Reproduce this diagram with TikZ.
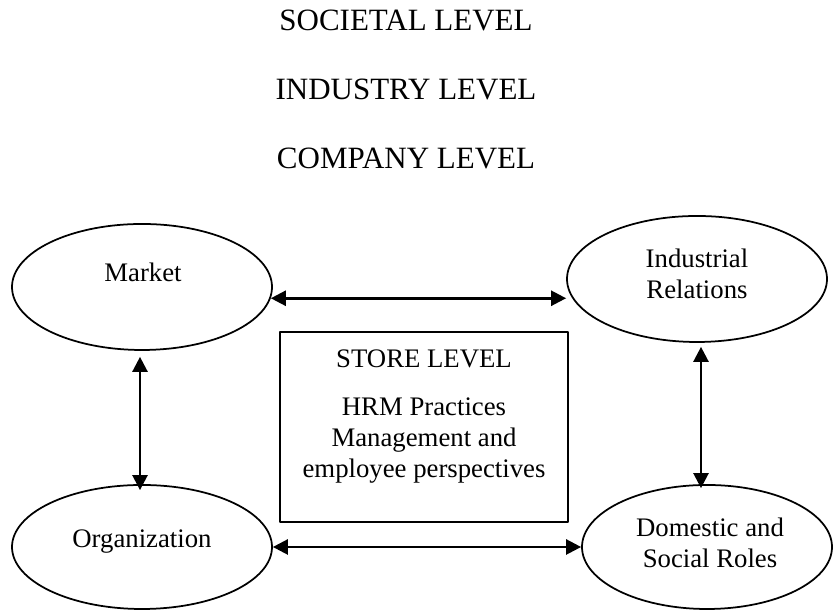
\documentclass[tikz,border=0pt]{standalone}
\usepackage{fontspec}
\setmainfont{Liberation Serif}
\usetikzlibrary{shapes.geometric,arrows.meta}
\begin{document}
\begin{tikzpicture}[x=.4pt,y=.4pt,font=\fontsize{10.7}{12.4}\selectfont, line join=round, line cap=round, >={Triangle[length=6pt,width=6pt]},
	elip/.style={draw,ellipse,line width=.7pt,inner sep=0pt,minimum width=104pt,minimum height=50.4pt},
	hop/.style={draw,rectangle,line width=.7pt,inner sep=0pt,minimum width=115.2pt,minimum height=76pt},
	tieude/.style={font=\fontsize{12.4}{14}\selectfont},
	mui/.style={<->,line width=1pt}]
	\useasboundingbox (0,0) rectangle (833,610);
	%% cac cap
	\node[tieude] (soc) at (406,590) {SOCIETAL LEVEL};
	\node[tieude] (ind) at (406,521) {INDUSTRY LEVEL};
	\node[tieude] (com) at (406,452) {COMPANY LEVEL};
	%% hinh elip va hop
	\node[elip] (market) at (142,323) {};
	\node[elip] (ir) at (697,331) {};
	\node[elip,minimum height=49.6pt] (org) at (142,63) {};
	\node[elip,minimum width=100pt,minimum height=49.6pt] (dom) at (707,63) {};
	\node[hop] (store) at (424,183) {};
	\node (marketlbl) at (143,338) {Market};
	\node[align=center] (irlbl) at (697,336) {Industrial\\Relations};
	\node (orglbl) at (142,68) {Organization};
	\node[align=center] (domlbl) at (710,67) {Domestic and\\Social Roles};
	\node[align=center,anchor=north,inner sep=0pt] (storelbl) at (424,261)
		{STORE LEVEL\\[7pt]HRM Practices\\Management and\\employee perspectives};
	%% mui ten
	\draw[mui] (market.-5) -- (market.-5 -| ir.west);
	\draw[mui] (org.east) -- (dom.west);
	\draw[mui] ([shift={(-2,-6)}]market.south) -- ([shift={(-2,-6)}]org.north);
	\draw[mui] ([shift={(4,-4)}]ir.south) -- ([shift={(4,-4)}]ir.south |- dom.north);
\end{tikzpicture}
\end{document}
